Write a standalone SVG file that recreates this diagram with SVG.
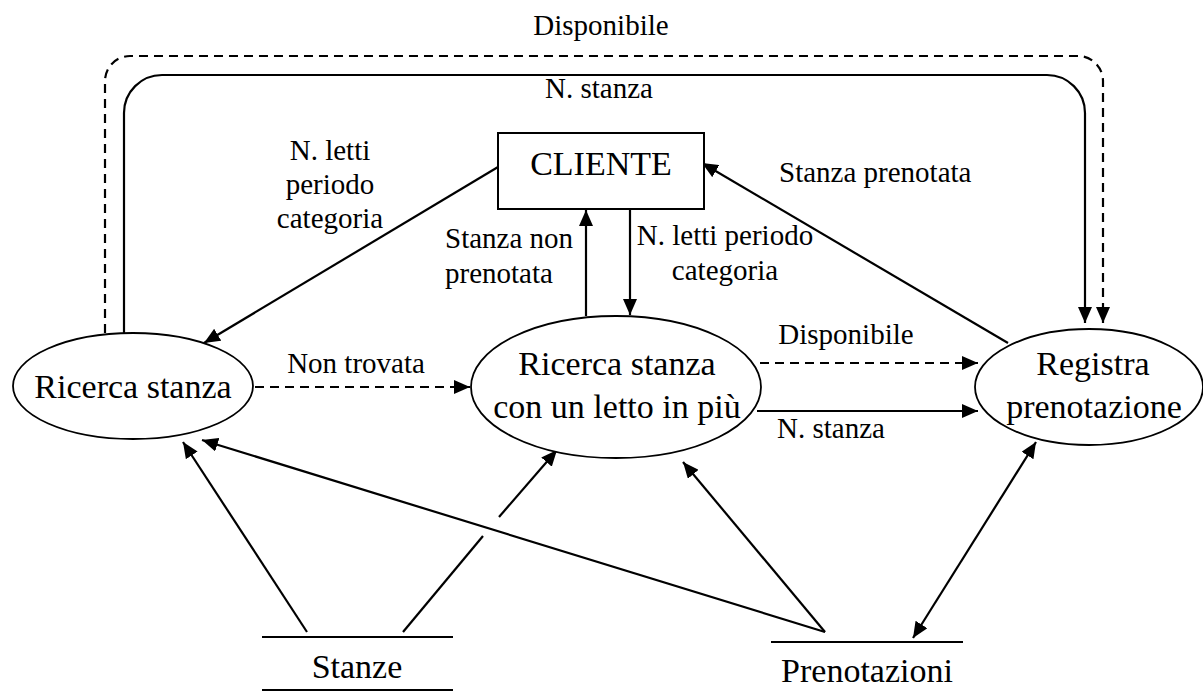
<svg xmlns="http://www.w3.org/2000/svg" width="1203" height="693" viewBox="0 0 1203 693">
<style>
text{font-family:"Liberation Serif","Times New Roman",serif;fill:#000}
.node{font-size:34px}
.lbl{font-size:29px}
.shape{fill:#fff;stroke:#000;stroke-width:2}
.ell{fill:#fff;stroke:#000;stroke-width:1.8}
.store{stroke:#000;stroke-width:2;fill:none}
.c{fill:none;stroke:#000;stroke-width:2.2}
.d{stroke-dasharray:9 6}
</style>
<defs>
<marker id="ah" markerUnits="userSpaceOnUse" markerWidth="17" markerHeight="14" refX="16" refY="7" orient="auto-start-reverse">
<path d="M0,0 L16,7 L0,14 z" fill="#000"/>
</marker>
</defs>
<rect width="1203" height="693" fill="#fff"/>
<g id="connectors">
<path class="c d" d="M105,333 L105,81 A25,25 0 0 1 130,56 L1078,56 A25,25 0 0 1 1103,81 L1103,323" marker-end="url(#ah)"/>
<path class="c" d="M124,333 L124,113 A38,38 0 0 1 162,75 L1047,75 A38,38 0 0 1 1085,113 L1085,323" marker-end="url(#ah)"/>
<line class="c" x1="498" y1="167" x2="204" y2="343" marker-end="url(#ah)"/>
<line class="c" x1="586" y1="316" x2="586" y2="210" marker-end="url(#ah)"/>
<line class="c" x1="630" y1="210" x2="630" y2="315" marker-end="url(#ah)"/>
<line class="c" x1="1008" y1="343" x2="702" y2="163" marker-end="url(#ah)"/>
<line class="c d" x1="255" y1="387" x2="470" y2="387" marker-end="url(#ah)"/>
<line class="c d" x1="760" y1="363" x2="978" y2="363" marker-end="url(#ah)"/>
<line class="c" x1="757" y1="411" x2="978" y2="411" marker-end="url(#ah)"/>
<line class="c" x1="307" y1="632" x2="183" y2="442" marker-end="url(#ah)"/>
<line class="c" x1="403" y1="632" x2="483" y2="536"/>
<line class="c" x1="499" y1="517" x2="557" y2="450" marker-end="url(#ah)"/>
<line class="c" x1="825" y1="632" x2="202" y2="440" marker-end="url(#ah)"/>
<line class="c" x1="825" y1="632" x2="683" y2="462" marker-end="url(#ah)"/>
<line class="c" x1="913" y1="638" x2="1036" y2="442" marker-start="url(#ah)" marker-end="url(#ah)"/>
</g>
<g id="labels">
<text class="lbl" x="601" y="35" text-anchor="middle">Disponibile</text>
<text class="lbl" x="599" y="98" text-anchor="middle">N. stanza</text>
<text class="lbl" x="330" y="160" text-anchor="middle">N. letti</text>
<text class="lbl" x="330" y="194" text-anchor="middle">periodo</text>
<text class="lbl" x="330" y="228" text-anchor="middle">categoria</text>
<text class="lbl" x="445" y="248">Stanza non</text>
<text class="lbl" x="445" y="283">prenotata</text>
<text class="lbl" x="725" y="245" text-anchor="middle">N. letti periodo</text>
<text class="lbl" x="725" y="280" text-anchor="middle">categoria</text>
<text class="lbl" x="779" y="182">Stanza prenotata</text>
<text class="lbl" x="356" y="373" text-anchor="middle">Non trovata</text>
<text class="lbl" x="846" y="344" text-anchor="middle">Disponibile</text>
<text class="lbl" x="777" y="438">N. stanza</text>
</g>
<g id="cliente">
<rect class="shape" x="498" y="133" width="206" height="76"/>
<text class="node" x="601" y="175" text-anchor="middle">CLIENTE</text>
</g>
<g id="ricerca-stanza">
<ellipse class="ell" cx="133" cy="386" rx="120" ry="53"/>
<text class="node" x="133" y="398" text-anchor="middle">Ricerca stanza</text>
</g>
<g id="ricerca-letto">
<ellipse class="ell" cx="616" cy="387" rx="145" ry="71"/>
<text class="node" x="617" y="375" text-anchor="middle">Ricerca stanza</text>
<text class="node" x="617" y="418" text-anchor="middle">con un letto in più</text>
</g>
<g id="registra">
<ellipse class="ell" cx="1089" cy="387" rx="114" ry="58"/>
<text class="node" x="1093" y="375" text-anchor="middle">Registra</text>
<text class="node" x="1094" y="418" text-anchor="middle">prenotazione</text>
</g>
<g id="stanze">
<line class="store" x1="262" y1="637" x2="453" y2="637"/>
<line class="store" x1="262" y1="690" x2="453" y2="690"/>
<text class="node" x="357" y="678" text-anchor="middle">Stanze</text>
</g>
<g id="prenotazioni">
<line class="store" x1="771" y1="642" x2="963" y2="642"/>
<text class="node" x="867" y="682" text-anchor="middle">Prenotazioni</text>
</g>
</svg>
